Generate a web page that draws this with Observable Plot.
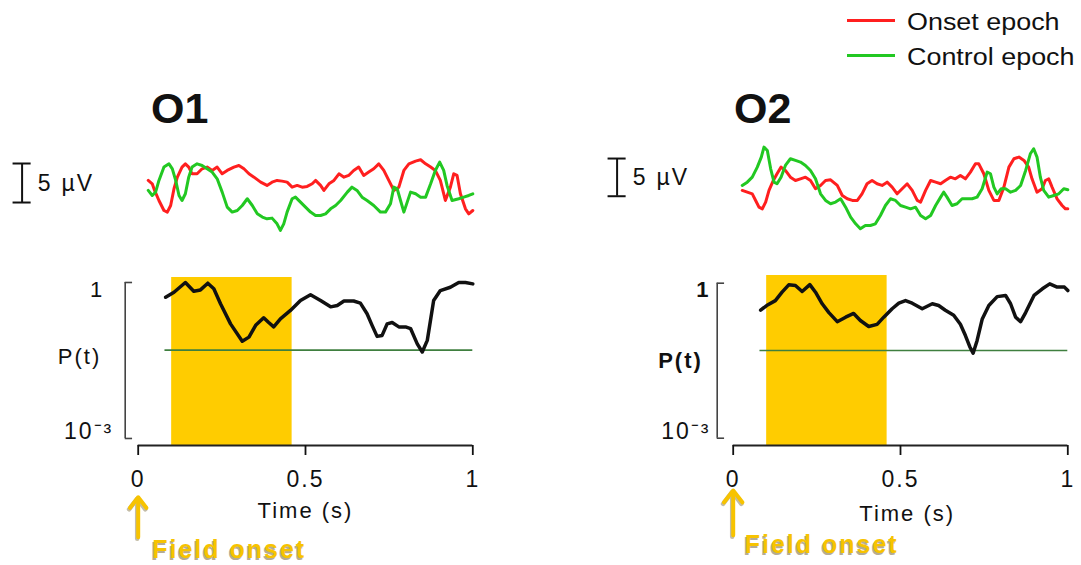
<!DOCTYPE html>
<html>
<head>
<meta charset="utf-8">
<script src="https://cdn.jsdelivr.net/npm/d3@7"></script>
<script src="https://cdn.jsdelivr.net/npm/@observablehq/plot@0.6"></script>
<style>
  html, body { margin: 0; padding: 0; background: #fff; }
  #root { position: relative; width: 1081px; height: 565px; overflow: hidden;
          font-family: "Liberation Sans", Arial, sans-serif; color: #111; }
  .abs { position: absolute; }
  .title { font-weight: bold; font-size: 43px; line-height: 1; white-space: nowrap; }
  .legtext { font-size: 23px; line-height: 1; white-space: nowrap; transform: scaleX(1.17); transform-origin: left center; }
  .swatch { height: 3px; }
  .abs svg { max-width: none !important; }
</style>
</head>
<body>
<div id="root"></div>
<script>
// ---------------- data ----------------
const channels = ["O1", "O2"];
const seriesNames = ["Onset epoch", "Control epoch"];
const timeTicks = [0, 0.5, 1];
const pTicks = [1e-3, 1];
const threshold = 0.05;
const stimWindow = [0.1, 0.46];
const scaleBarMicroV = 5;
const onsetTime = 0;
const onsetLabel = "Field onset";

// EEG traces [time (s), µV]
const o1Onset = [[0.030,0.43],[0.042,0],[0.049,-0.85],[0.062,-2.14],[0.077,-3.42],[0.087,-3.63],[0.097,-2.78],[0.107,-0.64],[0.117,0.85],[0.131,2.14],[0.141,2.56],[0.151,2.14],[0.161,1.28],[0.176,1.28],[0.191,1.92],[0.206,2.14],[0.221,1.71],[0.236,2.14],[0.251,1.28],[0.266,1.71],[0.286,2.14],[0.301,2.35],[0.316,1.92],[0.331,1.28],[0.346,0.85],[0.366,0.21],[0.385,-0.21],[0.400,0.21],[0.415,0.43],[0.430,0.34],[0.445,0.21],[0.460,-0.43],[0.475,-0.21],[0.490,-0.43],[0.505,-0.34],[0.520,0],[0.530,0.43],[0.545,-0.21],[0.555,-0.85],[0.570,0],[0.585,0.43],[0.600,1.28],[0.615,0.85],[0.629,1.07],[0.644,1.71],[0.659,2.14],[0.674,1.07],[0.689,1.50],[0.704,1.92],[0.719,2.56],[0.734,1.71],[0.749,0.43],[0.764,-0.85],[0.779,-0.43],[0.794,1.71],[0.809,2.56],[0.829,2.91],[0.844,3.08],[0.859,2.56],[0.874,2.14],[0.888,1.71],[0.903,0.43],[0.918,-2.14],[0.933,-0.43],[0.943,1.28],[0.953,1.07],[0.963,-1.28],[0.978,-3.21],[0.988,-3.85],[1.0,-3.42]];
const o1Control = [[0.030,-0.85],[0.042,-1.50],[0.052,-1.07],[0.062,0.43],[0.077,2.14],[0.092,2.56],[0.102,1.92],[0.112,0.43],[0.122,-1.50],[0.131,-2.14],[0.141,-1.28],[0.151,0.85],[0.161,2.14],[0.176,2.56],[0.191,2.35],[0.206,1.92],[0.221,1.50],[0.236,0.64],[0.251,-1.07],[0.266,-2.99],[0.281,-3.63],[0.296,-3.42],[0.311,-2.78],[0.326,-1.92],[0.341,-2.78],[0.356,-3.85],[0.371,-4.27],[0.385,-4.49],[0.400,-4.40],[0.415,-5.13],[0.425,-5.98],[0.435,-5.13],[0.445,-3.63],[0.460,-1.92],[0.470,-1.71],[0.485,-2.35],[0.500,-2.99],[0.515,-3.63],[0.530,-4.06],[0.545,-4.06],[0.560,-3.85],[0.575,-3.21],[0.590,-2.78],[0.605,-2.14],[0.625,-1.07],[0.639,-0.43],[0.654,-0.85],[0.669,-1.71],[0.684,-2.14],[0.704,-2.78],[0.724,-3.63],[0.739,-3.63],[0.754,-2.56],[0.764,-0.43],[0.774,-0.64],[0.784,-2.14],[0.794,-3.63],[0.804,-2.35],[0.814,-1.07],[0.829,-1.28],[0.844,-1.71],[0.859,-1.71],[0.874,0],[0.888,1.71],[0.901,2.78],[0.913,1.71],[0.923,-0.21],[0.938,-2.14],[0.958,-1.92],[0.973,-1.71],[0.988,-1.50],[1.0,-1.28]];
const o2Onset = [[0.027,-0.88],[0.042,-1.11],[0.057,-1.33],[0.067,-2.21],[0.077,-3.10],[0.087,-3.32],[0.097,-2.43],[0.107,-0.88],[0.120,0.44],[0.131,1.33],[0.143,2.21],[0.156,1.77],[0.171,0.88],[0.186,0.44],[0.201,0.66],[0.216,0.88],[0.231,0.44],[0.246,-0.66],[0.261,-0.22],[0.276,0.44],[0.291,0.53],[0.311,-0.22],[0.326,-1.55],[0.341,-1.99],[0.356,-2.21],[0.371,-2.21],[0.385,-1.33],[0.400,0],[0.415,0.44],[0.430,0],[0.445,-0.22],[0.460,0.22],[0.475,-0.44],[0.490,-1.33],[0.505,-0.66],[0.520,0],[0.535,-0.88],[0.550,-2.21],[0.560,-2.43],[0.575,-0.88],[0.590,0.44],[0.605,0.22],[0.620,0],[0.634,0.44],[0.649,0.88],[0.664,0.66],[0.679,1.11],[0.694,0.66],[0.709,1.55],[0.724,2.65],[0.734,2.65],[0.749,1.33],[0.764,-0.88],[0.779,-2.21],[0.794,-2.21],[0.809,-0.44],[0.824,2.21],[0.839,3.32],[0.854,3.54],[0.869,3.10],[0.883,2.21],[0.893,0.66],[0.908,-1.11],[0.923,-0.66],[0.933,0.44],[0.943,0.66],[0.953,-0.44],[0.968,-1.99],[0.983,-2.88],[0.993,-3.32],[1.0,-3.32]];
const o2Control = [[0.027,-0.22],[0.042,0.22],[0.057,0.88],[0.072,2.21],[0.084,3.54],[0.092,4.87],[0.102,4.42],[0.112,1.99],[0.122,0.22],[0.131,0],[0.143,0.88],[0.156,2.43],[0.171,3.32],[0.186,3.10],[0.201,2.88],[0.216,2.43],[0.231,1.77],[0.246,0.66],[0.261,-1.33],[0.276,-2.21],[0.291,-2.65],[0.306,-2.43],[0.321,-1.99],[0.336,-3.10],[0.351,-4.42],[0.366,-5.31],[0.380,-5.97],[0.395,-5.53],[0.410,-5.53],[0.425,-5.31],[0.440,-4.20],[0.455,-2.88],[0.470,-1.99],[0.485,-2.21],[0.500,-2.88],[0.515,-3.10],[0.530,-3.32],[0.545,-3.10],[0.560,-4.20],[0.575,-4.65],[0.590,-4.20],[0.605,-2.88],[0.620,-1.77],[0.629,-1.11],[0.639,-1.77],[0.654,-2.88],[0.669,-2.65],[0.684,-1.99],[0.699,-1.99],[0.714,-1.99],[0.729,-1.77],[0.744,-0.66],[0.759,1.55],[0.769,1.33],[0.779,-0.44],[0.789,-1.33],[0.801,-0.66],[0.814,-0.66],[0.829,-1.11],[0.844,-0.88],[0.859,-0.22],[0.874,1.77],[0.888,3.98],[0.898,4.65],[0.908,3.54],[0.918,0.88],[0.928,-0.88],[0.943,-1.77],[0.958,-1.55],[0.973,-1.33],[0.988,-0.66],[1.0,-0.80]];

// P(t) [time (s), p]
const o1P = [[0.082,0.52],[0.107,0.65],[0.141,1.0],[0.166,0.68],[0.186,0.72],[0.208,0.97],[0.226,0.76],[0.246,0.39],[0.276,0.16],[0.311,0.074],[0.331,0.089],[0.351,0.15],[0.375,0.21],[0.39,0.17],[0.405,0.14],[0.425,0.20],[0.455,0.29],[0.485,0.45],[0.515,0.58],[0.545,0.45],[0.575,0.34],[0.595,0.36],[0.615,0.44],[0.644,0.44],[0.664,0.40],[0.684,0.25],[0.699,0.15],[0.714,0.092],[0.729,0.096],[0.744,0.16],[0.759,0.17],[0.779,0.14],[0.799,0.14],[0.814,0.13],[0.834,0.066],[0.849,0.046],[0.864,0.077],[0.883,0.45],[0.903,0.70],[0.933,0.81],[0.958,1.0],[0.978,1.0],[1.0,0.94]];
const o2P = [[0.082,0.30],[0.10,0.37],[0.126,0.46],[0.146,0.67],[0.166,0.93],[0.186,0.90],[0.206,0.69],[0.229,0.94],[0.246,0.67],[0.266,0.40],[0.286,0.27],[0.311,0.18],[0.336,0.22],[0.36,0.26],[0.38,0.19],[0.405,0.145],[0.43,0.16],[0.45,0.22],[0.475,0.32],[0.495,0.41],[0.515,0.46],[0.535,0.41],[0.565,0.32],[0.595,0.40],[0.614,0.37],[0.634,0.30],[0.659,0.24],[0.679,0.16],[0.694,0.097],[0.707,0.059],[0.717,0.044],[0.729,0.078],[0.744,0.20],[0.764,0.37],[0.789,0.55],[0.814,0.58],[0.829,0.40],[0.844,0.22],[0.859,0.18],[0.874,0.27],[0.899,0.58],[0.924,0.78],[0.946,0.97],[0.968,0.84],[0.99,0.84],[1.0,0.72]];
const thresholdStart = 0.08;

// ---------------- styles & layout ----------------
const RED = "#ff1f1f", GREEN = "#22c822", YELLOW = "#ffcc00", ONSET_YELLOW = "#f7c300",
      THRESH = "#3f7f3f", INK = "#111";
const FONT = "'Liberation Sans', Arial, sans-serif";

const layout = [
  { ch: "O1", onset: o1Onset, control: o1Control, p: o1P,
    left: 0, width: 490, x0: 137.7, x1: 472.3,
    uv: [-8.55, 6.83], barX: -0.347, barLo: -2.4, barTextY: 0.05,
    logMin: -3.135, logMax: 0.096, frameTop: 277,
    yAxisDx: -13, onePad: 34, milliPad: 25, pLabelDx: -58.7, pLabelLog: -1.44, pBold: false,
    timeDx: 0, timeDy: 72, arrowTip: -4.13, arrowTail: -4.9, fieldLog: -5.15, fieldDx: 14,
    titleLeft: 151 },
  { ch: "O2", onset: o2Onset, control: o2Control, p: o2P,
    left: 590, width: 491, x0: 732.7, x1: 1067.3,
    uv: [-8.85, 7.07], barX: -0.347, barLo: -1.65, barTextY: 0.84,
    logMin: -3.141, logMax: 0.149, frameTop: 275,
    yAxisDx: -16, onePad: 22.7, milliPad: 22.7, pLabelDx: -52.7, pLabelLog: -1.51, pBold: true,
    timeDx: 6.7, timeDy: 75, arrowTip: -4.01, arrowTail: -4.88, fieldLog: -5.07, fieldDx: 11.5,
    titleLeft: 734 }
];

const root = document.getElementById("root");
function place(el, left, top) {
  const d = document.createElement("div");
  d.className = "abs";
  d.style.left = left + "px";
  d.style.top = top + "px";
  d.appendChild(el);
  root.appendChild(d);
  return d;
}

for (const L of layout) {
  // title
  const t = document.createElement("div");
  t.className = "title";
  t.textContent = L.ch;
  place(t, L.titleLeft, 86.5);

  // top: EEG traces + scale bar
  const top = Plot.plot({
    width: L.width, height: 120,
    marginLeft: L.x0 - L.left, marginRight: L.left + L.width - L.x1,
    marginTop: 0, marginBottom: 0,
    x: { domain: [0, 1], axis: null },
    y: { domain: L.uv, axis: null },
    style: { fontFamily: FONT, fontSize: "23px", color: INK, background: "transparent", overflow: "visible", letterSpacing: "2.2px" },
    marks: [
      Plot.line(L.onset, { x: d => d[0], y: d => d[1], stroke: RED, strokeWidth: 3 }),
      Plot.line(L.control, { x: d => d[0], y: d => d[1], stroke: GREEN, strokeWidth: 3 }),
      Plot.ruleX([L.barX], { y1: L.barLo, y2: L.barLo + scaleBarMicroV, stroke: INK, strokeWidth: 2 }),
      Plot.ruleY([L.barLo, L.barLo + scaleBarMicroV], { x1: L.barX - 0.027, x2: L.barX + 0.027, stroke: INK, strokeWidth: 2 }),
      Plot.text([`${scaleBarMicroV} µV`], { x: L.barX + 0.047, y: L.barTextY, textAnchor: "start", fontSize: 23, fill: INK })
    ]
  });
  place(top, L.left, 130);

  // bottom: P(t)
  const yMin = 10 ** L.logMin, yMax = 10 ** L.logMax;
  const bottom = Plot.plot({
    width: L.width, height: 305,
    marginLeft: L.x0 - L.left, marginRight: L.left + L.width - L.x1,
    marginTop: L.frameTop - 260, marginBottom: 120,
    x: { domain: [0, 1], axis: null },
    y: { type: "log", domain: [yMin, yMax], axis: null },
    style: { fontFamily: FONT, fontSize: "22px", color: INK, background: "transparent", overflow: "visible", letterSpacing: "2px" },
    marks: [
      Plot.rect([stimWindow], { x1: d => d[0], x2: d => d[1], y1: yMin, y2: yMax, fill: YELLOW }),
      Plot.ruleY([threshold], { x1: thresholdStart, x2: 1, stroke: THRESH, strokeWidth: 1.6 }),
      Plot.line(L.p, { x: d => d[0], y: d => d[1], stroke: INK, strokeWidth: 3.5 }),
      // x axis
      Plot.ruleY([yMin], { stroke: "#222", strokeWidth: 1.8 }),
      Plot.axisX(timeTicks, { tickSize: 10, tickPadding: 15, tickFormat: d => String(d), label: null, fontSize: 23, strokeWidth: 1.8 }),
      Plot.text(["Time (s)"], { frameAnchor: "bottom", dx: L.timeDx, dy: L.timeDy, fontSize: 22 }),
      // y axis bracket
      Plot.ruleX([0], { y1: pTicks[0], y2: pTicks[1], dx: L.yAxisDx, stroke: "#444", strokeWidth: 1.6 }),
      Plot.ruleY(pTicks, { x1: 0, x2: 0.022, dx: L.yAxisDx, stroke: "#444", strokeWidth: 1.6 }),
      Plot.axisY([pTicks[1]], { tickSize: 0, tickPadding: L.onePad, dy: 7, tickFormat: () => "1", label: null, fontSize: 22, fontWeight: L.pBold ? "bold" : "normal" }),
      Plot.axisY([pTicks[0]], { tickSize: 0, tickPadding: L.milliPad, dy: -7, tickFormat: () => "10⁻³", label: null, fontSize: 23 }),
      Plot.text(["P(t)"], { frameAnchor: "left", y: 10 ** L.pLabelLog, dx: L.pLabelDx, textAnchor: "middle", fontSize: 22, fontWeight: L.pBold ? "bold" : "normal" }),
      // onset arrow + label
      Plot.arrow([onsetTime], { x1: d => d, x2: d => d, y1: 10 ** L.arrowTail, y2: 10 ** L.arrowTip, dx: -1, dy: 1.5, stroke: "#7a6a3a", strokeOpacity: 0.45, strokeWidth: 4.5, headLength: 11, headAngle: 75 }),
      Plot.arrow([onsetTime], { x1: d => d, x2: d => d, y1: 10 ** L.arrowTail, y2: 10 ** L.arrowTip, stroke: ONSET_YELLOW, strokeWidth: 4, headLength: 11, headAngle: 75 }),
      Plot.text([onsetLabel], { x: onsetTime, y: 10 ** L.fieldLog, dx: L.fieldDx - 1.5, dy: 1.5, textAnchor: "start", fontSize: 25, fontWeight: "bold", fill: "#6b5a2a", fillOpacity: 0.5 }),
      Plot.text([onsetLabel], { x: onsetTime, y: 10 ** L.fieldLog, dx: L.fieldDx, textAnchor: "start", fontSize: 25, fontWeight: "bold", fill: ONSET_YELLOW })
    ]
  });
  place(bottom, L.left, 260);
}

// legend
const legendRows = [
  { name: seriesNames[0], color: RED, top: 10.5, lineY: 19 },
  { name: seriesNames[1], color: GREEN, top: 45.5, lineY: 54 }
];
for (const r of legendRows) {
  const sw = document.createElement("div");
  sw.className = "swatch";
  sw.style.width = "48px";
  sw.style.background = r.color;
  place(sw, 847, r.lineY);
  const tx = document.createElement("div");
  tx.className = "legtext";
  tx.textContent = r.name;
  place(tx, 907, r.top);
}
</script>
</body>
</html>
